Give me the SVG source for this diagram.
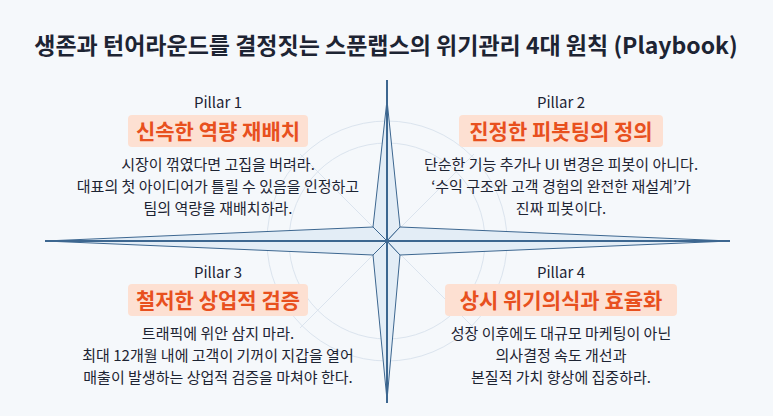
<svg xmlns="http://www.w3.org/2000/svg" width="773" height="416" viewBox="0 0 773 416">
<defs>
<style>
text{font-family:"Noto Sans CJK KR","Noto Sans",sans-serif;text-anchor:middle}
.t{font-size:23px;font-weight:700;fill:#1d2433}
.p{font-size:15px;fill:#1d2433}
.h{font-size:21px;font-weight:700;fill:#e8501e}
.b{font-size:15px;fill:#1d2433}
.hb{fill:#fde0d2}
.star{fill:#e3edf6;stroke:#3d6790;stroke-width:1}
.ring{fill:none;stroke:#dbe4ee;stroke-width:1}
</style>
</defs>
<rect width="773" height="416" fill="#f5f8fb"/>
<g id="decor">
<circle class="ring" cx="387" cy="241" r="120"/>
<circle class="ring" cx="387" cy="241" r="98"/>
<line class="ring" x1="300" y1="154" x2="474" y2="328"/>
<line class="ring" x1="474" y1="154" x2="300" y2="328"/>
</g>
<text class="t" x="386" y="54">생존과 턴어라운드를 결정짓는 스푼랩스의 위기관리 4대 원칙 (Playbook)</text>
<g id="connectors">
<polygon class="star" points="387,100 400,227 387,241 373,227"/>
<polygon class="star" points="387,400 400,255 387,241 373,255"/>
<polygon class="star" points="45,241 373,227 387,241 373,255"/>
<polygon class="star" points="730,241 400,227 387,241 400,255"/>
<line x1="387" y1="80" x2="387" y2="403" stroke="#3d6790" stroke-width="2"/>
<line x1="45" y1="241" x2="730" y2="241" stroke="#3d6790" stroke-width="2"/>
</g>
<g id="pillar1">
<text class="p" x="218" y="108">Pillar 1</text>
<rect class="hb" x="128" y="115" width="180" height="32" rx="4"/>
<text class="h" x="218" y="139">신속한 역량 재배치</text>
<text class="b" x="218" y="170">시장이 꺾였다면 고집을 버려라.</text>
<text class="b" x="218" y="192">대표의 첫 아이디어가 틀릴 수 있음을 인정하고</text>
<text class="b" x="218" y="214">팀의 역량을 재배치하라.</text>
</g>
<g id="pillar2">
<text class="p" x="561" y="108">Pillar 2</text>
<rect class="hb" x="459" y="115" width="204" height="32" rx="4"/>
<text class="h" x="561" y="139">진정한 피봇팅의 정의</text>
<text class="b" x="561" y="170">단순한 기능 추가나 UI 변경은 피봇이 아니다.</text>
<text class="b" x="561" y="192">‘수익 구조와 고객 경험의 완전한 재설계’가</text>
<text class="b" x="561" y="214">진짜 피봇이다.</text>
</g>
<g id="pillar3">
<text class="p" x="218" y="278">Pillar 3</text>
<rect class="hb" x="128" y="284" width="180" height="32" rx="4"/>
<text class="h" x="218" y="308">철저한 상업적 검증</text>
<text class="b" x="218" y="339">트래픽에 위안 삼지 마라.</text>
<text class="b" x="218" y="361">최대 12개월 내에 고객이 기꺼이 지갑을 열어</text>
<text class="b" x="218" y="383">매출이 발생하는 상업적 검증을 마쳐야 한다.</text>
</g>
<g id="pillar4">
<text class="p" x="561" y="278">Pillar 4</text>
<rect class="hb" x="445" y="284" width="232" height="32" rx="4"/>
<text class="h" x="561" y="308">상시 위기의식과 효율화</text>
<text class="b" x="561" y="339">성장 이후에도 대규모 마케팅이 아닌</text>
<text class="b" x="561" y="361">의사결정 속도 개선과</text>
<text class="b" x="561" y="383">본질적 가치 향상에 집중하라.</text>
</g>
</svg>
